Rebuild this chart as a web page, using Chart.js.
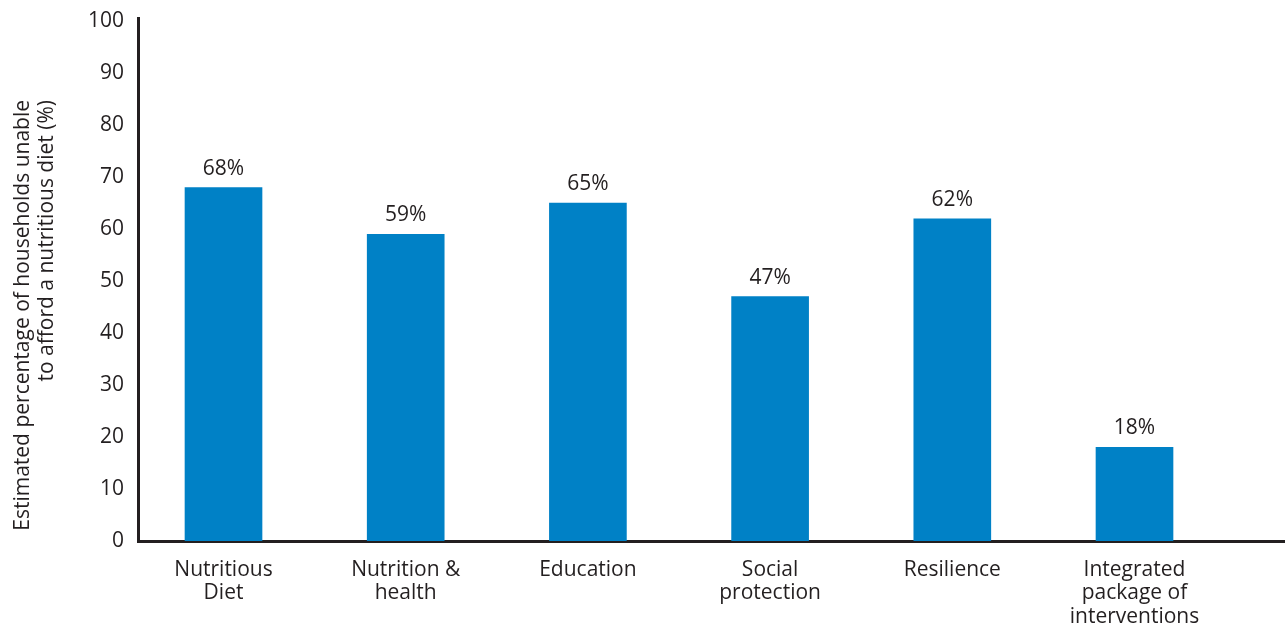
<!DOCTYPE html>
<html>
<head>
<meta charset="utf-8">
<script src="https://cdn.jsdelivr.net/npm/chart.js@4"></script>
<style>
    html,body{margin:0;padding:0;background:#fff;}
    #wrap{width:1285px;height:624px;position:relative;}
</style>
</head>
<body>
<div id="wrap"><canvas id="barChart"></canvas></div>
<script>
/* ==========================================
   DATA
========================================== */

const categories = [
    ["Nutritious", "Diet"],
    ["Nutrition &", "health"],
    ["Education"],
    ["Social", "protection"],
    ["Resilience"],
    ["Integrated", "package of", "interventions"]
];

const values = [68, 59, 65, 47, 62, 18];

const yTicks = [0, 10, 20, 30, 40, 50, 60, 70, 80, 90, 100];

const yTitle = [
    "Estimated percentage of households unable",
    "to afford a nutritious diet (%)"
];

/* ==========================================
   STYLE
========================================== */

const BAR_COLOR = "#0081c6";
const INK = "#231f20";
const FONT = "'Open Sans', sans-serif";
const FONT_SIZE = 21;

/* ==========================================
   PLUGINS
========================================== */

const valueLabels = {
    id: "valueLabels",
    afterDatasetsDraw(chart){
        const ctx = chart.ctx;
        const meta = chart.getDatasetMeta(0);
        ctx.save();
        ctx.font = FONT_SIZE + "px " + FONT;
        ctx.fillStyle = INK;
        ctx.textAlign = "center";
        ctx.textBaseline = "alphabetic";
        meta.data.forEach((bar, i)=>{
            ctx.fillText(values[i] + "%", bar.x, bar.y - 13);
        });
        ctx.restore();
    }
};

const axisTitle = {
    id: "axisTitle",
    afterDraw(chart){
        const ctx = chart.ctx;
        ctx.save();
        ctx.font = FONT_SIZE + "px " + FONT;
        ctx.fillStyle = INK;
        ctx.textAlign = "right";
        ctx.textBaseline = "middle";
        ctx.translate(23, 100);
        ctx.rotate(-Math.PI / 2);
        yTitle.forEach((line, i)=>{
            ctx.fillText(line, 0, i * 24);
        });
        ctx.restore();
    }
};

/* ==========================================
   CHART
========================================== */

const ctx = document.getElementById("barChart").getContext("2d");

new Chart(ctx, {
    type: "bar",
    data: {
        datasets: [{
            data: values.map((v, i)=>({ x: i, y: v })),
            backgroundColor: BAR_COLOR,
            borderWidth: 0,
            barThickness: 77
        }]
    },
    options: {
        responsive: true,
        maintainAspectRatio: false,
        animation: false,
        layout: { padding: { top: 18, left: 0, right: 0, bottom: 0 } },
        plugins: {
            legend: { display: false },
            tooltip: { enabled: false }
        },
        scales: {
            x: {
                type: "linear",
                offset: false,
                min: -0.4693,
                max: 5.826,
                grid: { display: false, offset: false },
                border: { display: true, color: INK, width: 3 },
                afterBuildTicks(scale){
                    scale.ticks = categories.map((c, i)=>({ value: i }));
                },
                afterFit(scale){
                    scale.height = 83;
                },
                ticks: {
                    autoSkip: false,
                    maxRotation: 0,
                    padding: 9,
                    color: INK,
                    font: { family: FONT, size: FONT_SIZE, lineHeight: 1.12 },
                    callback: (value)=>categories[value]
                }
            },
            y: {
                min: 0,
                max: 100.5,
                grid: { display: false },
                border: { display: true, color: INK, width: 3 },
                afterBuildTicks(scale){
                    scale.ticks = yTicks.map(v=>({ value: v }));
                },
                afterFit(scale){
                    scale.width = 138;
                },
                ticks: {
                    padding: 6,
                    color: INK,
                    font: { family: FONT, size: FONT_SIZE }
                }
            }
        }
    },
    plugins: [valueLabels, axisTitle]
});
</script>
</body>
</html>
